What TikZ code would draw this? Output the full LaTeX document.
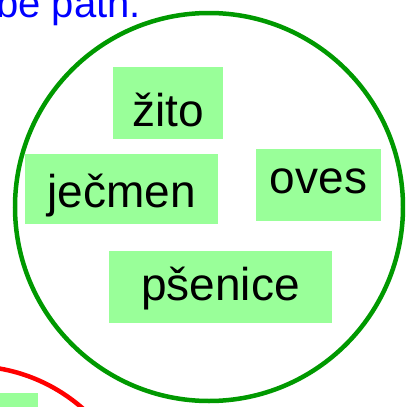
\documentclass[tikz,border=0pt]{standalone}
\usepackage{fontspec}
\setmainfont{Liberation Sans}
\usepackage{tikz}
\usepackage{xcolor}
\definecolor{setgreen}{RGB}{0,153,0}
\definecolor{boxgreen}{RGB}{153,255,153}

\begin{document}
\begin{tikzpicture}[x=1pt,y=-1pt,
  grain/.style={fill=boxgreen, inner sep=0pt, anchor=center,
    font=\fontsize{46}{50}\selectfont},
  rim/.style={line width=4.5pt}]
 \pgfmathsetmacro{\r}{194}
  \useasboundingbox (0,0) rectangle (405,407);
  \clip (0,0) rectangle (405,407);

  \node[anchor=base east, inner sep=0pt, text=blue,
    font=\fontsize{40}{44}\selectfont] (title) at (141,17) {be path.};

  \draw[rim, setgreen] (209,207) circle (\r pt);
  \draw[rim, red] (-30,537) circle (171pt);
  \fill[boxgreen] (-60,393) rectangle (38,470);

  \node[grain, minimum width=110pt, text height=59pt, text depth=13pt] (zito) at (168,103) {žito};
  \node[grain, minimum width=193pt, text height=53pt, text depth=17pt] (jecmen) at (121.5,189) {ječmen};
  \node[grain, minimum width=125pt, text height=44pt, text depth=28pt] (oves) at (318.5,185) {oves};
  \node[grain, minimum width=223pt, text height=49pt, text depth=23pt] (psenice) at (220.5,287) {pšenice};
\end{tikzpicture}
\end{document}
